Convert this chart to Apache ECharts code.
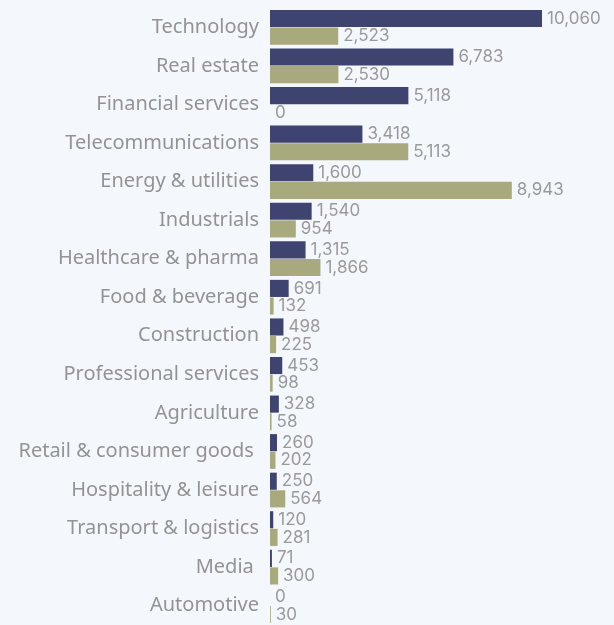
<!DOCTYPE html>
<html><head><meta charset="utf-8">
<script src="https://cdn.jsdelivr.net/npm/echarts@6/dist/echarts.min.js"></script>
<style>html,body{margin:0;padding:0;background:#f4f7fc;}#c{width:614px;height:625px;}</style>
</head><body><div id="c"></div>
<script>
const categories = ["Technology","Real estate","Financial services","Telecommunications","Energy & utilities","Industrials","Healthcare & pharma","Food & beverage","Construction","Professional services","Agriculture","Retail & consumer goods ","Hospitality & leisure","Transport & logistics","Media ","Automotive"];
const seriesA = [10060,6783,5118,3418,1600,1540,1315,691,498,453,328,260,250,120,71,0];
const seriesB = [2523,2530,0,5113,8943,954,1866,132,225,98,58,202,564,281,300,30];

const chart = echarts.init(document.getElementById('c'));
const lbl = {show:true, position:'right', distance:5, color:'#9a9a9a', fontFamily:'Inter', fontSize:17,
  formatter: p => p.value.toLocaleString('en-US')};
chart.setOption({
  backgroundColor:'#f4f7fc',
  animation:false,
  grid:{left:270, right:72, top:8, height:622},
  xAxis:{type:'value', min:0, max:10060, show:false},
  yAxis:{type:'category', data:categories, inverse:true,
    axisLine:{show:false}, axisTick:{show:false}, splitLine:{show:false},
    axisLabel:{color:'#939393', fontFamily:'Noto Sans', fontSize:20, margin:11}},
  series:[
    {type:'bar', data:seriesA, itemStyle:{color:'#3f4370'}, barCategoryGap:'10%', barGap:'3%', label:lbl},
    {type:'bar', data:seriesB, itemStyle:{color:'#a8a97c'}, barCategoryGap:'10%', barGap:'3%', label:lbl}
  ]
});
</script></body></html>
